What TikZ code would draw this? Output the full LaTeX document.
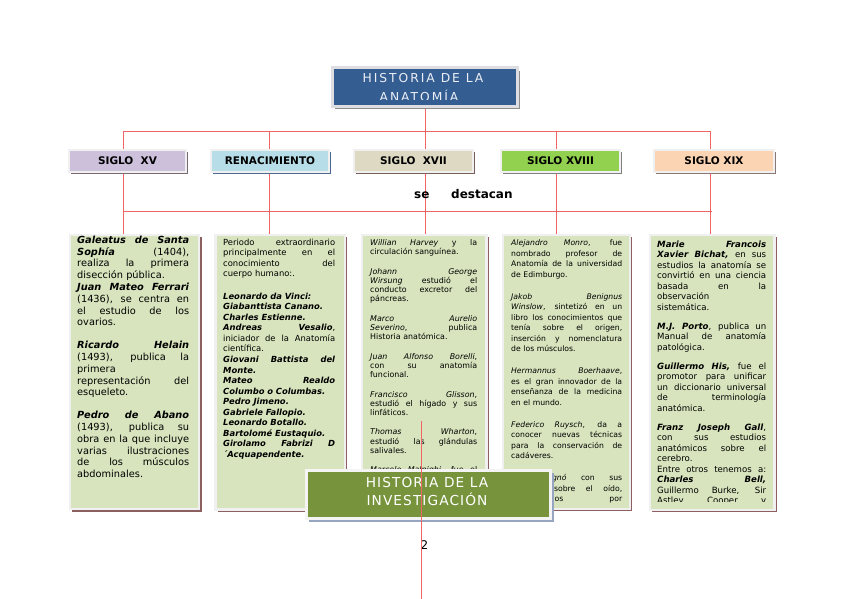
\documentclass[tikz,border=0pt]{standalone}
\usepackage{fontspec}
\setmainfont{DejaVu Sans}
\newfontfamily\titlefont[LetterSpace=16]{DejaVu Sans}
\newfontfamily\bottomfont[LetterSpace=8]{DejaVu Sans}
\usetikzlibrary{shadows}
\pgfdeclarelayer{connlayer}
\pgfsetlayers{connlayer,main}
\definecolor{linered}{RGB}{240,100,100}
\definecolor{colgreen}{RGB}{215,228,189}
\definecolor{boxedge}{RGB}{240,240,240}
\definecolor{shbrown}{RGB}{140,96,96}
\definecolor{titleblue}{RGB}{52,94,146}
\definecolor{titleedge}{RGB}{222,222,226}
\definecolor{titletext}{RGB}{236,238,245}
\definecolor{olive}{RGB}{119,147,60}
\definecolor{oliveedge}{RGB}{244,244,244}
\definecolor{olivesh}{RGB}{150,165,192}
\definecolor{titlesh}{RGB}{140,140,140}
\definecolor{hXV}{RGB}{204,192,218}
\definecolor{hREN}{RGB}{183,222,232}
\definecolor{hXVII}{RGB}{221,217,195}
\definecolor{hXVIII}{RGB}{146,208,80}
\definecolor{hXIX}{RGB}{251,212,180}
\definecolor{sXV}{RGB}{120,105,115}
\definecolor{sREN}{RGB}{74,104,144}
\definecolor{sXVII}{RGB}{120,95,90}
\definecolor{sXVIII}{RGB}{128,128,128}
\definecolor{sXIX}{RGB}{138,120,118}
\newcommand\jline[1]{{\spaceskip=0pt\xspaceskip=0pt\makebox[\hsize][s]{#1}}}
\newcommand\bitx[1]{\textbf{\textit{#1}}}
\setlength\parindent{0pt}
\begin{document}
\begin{tikzpicture}[x=1pt,y=-1pt,
  conn/.style={draw=linered, line width=1.2pt},
  colbox/.style={anchor=north west, inner sep=0pt, fill=colgreen, draw=boxedge, line width=2.5pt,
    drop shadow={shadow xshift=2.6pt, shadow yshift=-2.6pt, fill=shbrown, opacity=1}},
  hdr/.style 2 args={anchor=north west, inner sep=0pt, minimum height=22pt, fill=#1, draw=boxedge, line width=2pt,
    drop shadow={shadow xshift=2.4pt, shadow yshift=-2.4pt, fill=#2, opacity=1},
    font=\fontsize{10.5}{12}\selectfont\bfseries},
  coltext/.style={anchor=base west, inner sep=0pt, align=left}
]
\begin{pgfonlayer}{connlayer}
\fill[white] (0,0) rectangle (848,599);
\end{pgfonlayer}
\useasboundingbox (0,0) rectangle (848,599);

% junction coordinates
\coordinate (v1) at (123.5,131.5);
\coordinate (v2) at (269.5,131.5);
\coordinate (v3) at (425.5,131.5);
\coordinate (v4) at (556.5,131.5);
\coordinate (v5) at (710.5,131.5);
\coordinate (w1) at (123.5,211.5);
\coordinate (w5) at (711.5,211.5);

\node[anchor=north west, inner sep=0pt, minimum width=185pt, minimum height=38.5pt,
      fill=titleblue, draw=titleedge, line width=3pt,
      drop shadow={shadow xshift=3pt, shadow yshift=-3pt, fill=titlesh, opacity=1}] (tt) at (330.5,66.5) {};

\node[colbox, minimum width=129.3pt, minimum height=274.3pt] (c1) at (68.5,233.5) {};
\node[colbox, minimum width=129.5pt, minimum height=274.5pt] (c2) at (214,233.5) {};
\node[colbox, minimum width=124.5pt, minimum height=270pt] (c3) at (360.8,233.5) {};
\node[colbox, minimum width=127pt, minimum height=274pt] (c4) at (501.5,233.5) {};
\node[colbox, minimum width=124.8pt, minimum height=275pt] (c5) at (648.5,233.5) {};

\node[hdr={hXV}{sXV}, minimum width=117pt] (h1) at (68,149) {SIGLO\ \ XV};
\node[hdr={hREN}{sREN}, minimum width=118pt] (h2) at (210,149) {RENACIMIENTO};
\node[hdr={hXVII}{sXVII}, minimum width=119pt] (h3) at (353,149) {SIGLO\ \ XVII};
\node[hdr={hXVIII}{sXVIII}, minimum width=119pt] (h4) at (500,149) {SIGLO XVIII};
\node[hdr={hXIX}{sXIX}, minimum width=120pt] (h5) at (653,149) {SIGLO XIX};

% connectors, behind the boxes
\begin{pgfonlayer}{connlayer}
\draw[conn] (tt.south -| v3) -- (v3);
\draw[conn] (v1) -- (v5);
\draw[conn] (w1) -- (w5);
\draw[conn] (v1) -- (c1.north -| v1);
\draw[conn] (v2) -- (c2.north -| v2);
\draw[conn] (v3) -- (c3.north -| v3);
\draw[conn] (v4) -- (c4.north -| v4);
\draw[conn] (v5) -- (c5.north -| v5);
\end{pgfonlayer}

\node[anchor=base west, inner sep=0pt, font=\fontsize{12}{14}\selectfont\bfseries] (sd) at (414,198)
  {se\hspace{21.7pt}destacan};

% column 1
\node[coltext, text width=112pt, font=\fontsize{9.8}{11.8}\selectfont] (t1) at (77,243.3) {%
\jline{\bitx{Galeatus de Santa}}\\
\jline{\bitx{Sophía} (1404),}\\
\jline{realiza la primera}\\
disección pública.\\
\jline{\bitx{Juan Mateo Ferrari}}\\
\jline{(1436), se centra en}\\
\jline{el estudio de los}\\
ovarios.\\[11pt]
\jline{\bitx{Ricardo Helain}}\\
\jline{(1493), publica la}\\
primera\\
\jline{representación del}\\
esqueleto.\\[11pt]
\jline{\bitx{Pedro de Abano}}\\
\jline{(1493), publica su}\\
\jline{obra en la que incluye}\\
\jline{varias ilustraciones}\\
\jline{de los músculos}\\
abdominales.};

% column 2
\node[coltext, text width=112pt, font=\fontsize{8.4}{10.55}\selectfont] (t2) at (223,245) {%
\jline{Periodo extraordinario}\\
\jline{principalmente en el}\\
\jline{conocimiento del}\\
cuerpo humano:.\\[12pt]
\bitx{Leonardo da Vinci:}\\
\bitx{Giabanttista Canano.}\\
\bitx{Charles Estienne.}\\
\jline{\bitx{Andreas Vesalio},}\\
\jline{iniciador de la Anatomía}\\
científica.\\
\jline{\bitx{Giovani Battista del}}\\
\bitx{Monte.}\\
\jline{\bitx{Mateo Realdo}}\\
\bitx{Columbo o Columbas.}\\
\bitx{Pedro Jimeno.}\\
\bitx{Gabriele Fallopio.}\\
\bitx{Leonardo Botallo.}\\
\bitx{Bartolomé Eustaquio.}\\
\jline{\bitx{Girolamo Fabrizi D}}\\
\bitx{´Acquapendente.}};

% column 3
\node[coltext, text width=107pt, font=\fontsize{7.9}{9.15}\selectfont] (t3) at (370,245.7) {%
\jline{\textit{Willian Harvey} y la}\\
circulación sanguínea.\\[10.4pt]
\jline{\textit{Johann George}}\\
\jline{\textit{Wirsung} estudió el}\\
\jline{conducto excretor del}\\
páncreas.\\[10.4pt]
\jline{\textit{Marco Aurelio}}\\
\jline{\textit{Severino}, publica}\\
Historia anatómica.\\[10.4pt]
\jline{\textit{Juan Alfonso Borelli},}\\
\jline{con su anatomía}\\
funcional.\\[10.4pt]
\jline{\textit{Francisco Glisson},}\\
\jline{estudió el hígado y sus}\\
linfáticos.\\[10.4pt]
\jline{\textit{Thomas Wharton},}\\
\jline{estudió las glándulas}\\
salivales.\\[10.4pt]
\jline{\textit{Marcelo Malpighi}, fue el}};

% column 4
\node[coltext, text width=111pt, font=\fontsize{7.7}{10.5}\selectfont] (t4) at (511,245.7) {%
\jline{\textit{Alejandro Monro}, fue}\\
\jline{nombrado profesor de}\\
\jline{Anatomía de la universidad}\\
de Edimburgo.\\[11.5pt]
\jline{\textit{Jakob Benignus}}\\
\jline{\textit{Winslow}, sintetizó en un}\\
\jline{libro los conocimientos que}\\
\jline{tenía sobre el origen,}\\
\jline{inserción y nomenclatura}\\
de los músculos.\\[11.5pt]
\jline{\textit{Hermannus Boerhaave},}\\
\jline{es el gran innovador de la}\\
\jline{enseñanza de la medicina}\\
en el mundo.\\[11.5pt]
\jline{\textit{Federico Ruysch}, da a}\\
\jline{conocer nuevas técnicas}\\
\jline{para la conservación de}\\
cadáveres.\\[11.5pt]
\jline{\textit{D. Cotugnó} con sus}\\
\jline{estudios sobre el oído,}\\
\jline{denominados por}};

% column 5 (clipped at the bottom)
\begin{scope}
\clip (640,230) rectangle (790,501.5);
\node[coltext, text width=109pt, font=\fontsize{8.6}{10.5}\selectfont] (t5) at (657,247) {%
\jline{\bitx{Marie Francois}}\\
\jline{\bitx{Xavier Bichat,} en sus}\\
\jline{estudios la anatomía se}\\
\jline{convirtió en una ciencia}\\
\jline{basada en la}\\
observación\\
sistemática.\\[8.5pt]
\jline{\bitx{M.J. Porto}, publica un}\\
\jline{Manual de anatomía}\\
patológica.\\[8.5pt]
\jline{\bitx{Guillermo His,} fue el}\\
\jline{promotor para unificar}\\
\jline{un diccionario universal}\\
\jline{de terminología}\\
anatómica.\\[8.5pt]
\jline{\bitx{Franz Joseph Gall},}\\
\jline{con sus estudios}\\
\jline{anatómicos sobre el}\\
cerebro.\\
\jline{Entre otros tenemos a:}\\
\jline{\bitx{Charles Bell,}}\\
\jline{Guillermo Burke, Sir}\\
\jline{Astley Cooper y}};
\end{scope}

% title text (clipped by the box)
\begin{scope}
\clip (332,68) rectangle (514,100);
\node[anchor=base, inner sep=0pt, text=titletext, font=\titlefont\fontsize{12.3}{14}\selectfont] (tta) at (423,83) {HISTORIA DE LA};
\node[anchor=base, inner sep=0pt, text=titletext, font=\titlefont\fontsize{12.3}{14}\selectfont] (ttb) at (419,102) {ANATOMÍA};
\end{scope}

% bottom box
\node[anchor=north west, inner sep=0pt, minimum width=244.5pt, minimum height=48.5pt,
      fill=olive, draw=oliveedge, line width=3.3pt,
      drop shadow={shadow xshift=3pt, shadow yshift=-3pt, fill=olivesh, opacity=1}] (bb) at (304.5,468.5) {};
\node[anchor=base, inner sep=0pt, text=white, font=\bottomfont\fontsize{13.7}{16}\selectfont] (bba) at (427,487) {HISTORIA DE LA};
\node[anchor=base, inner sep=0pt, text=white, font=\bottomfont\fontsize{13.7}{16}\selectfont] (bbb) at (427,505) {INVESTIGACIÓN};

% page number and long line on top
\node[anchor=base, inner sep=0pt, font=\fontsize{12}{14}\selectfont] (pg) at (424.5,549) {2};
\coordinate (z0) at (421.5,421);
\coordinate (z1) at (421.5,599);
\draw[conn] (z0) -- (z1);
\end{tikzpicture}
\end{document}
